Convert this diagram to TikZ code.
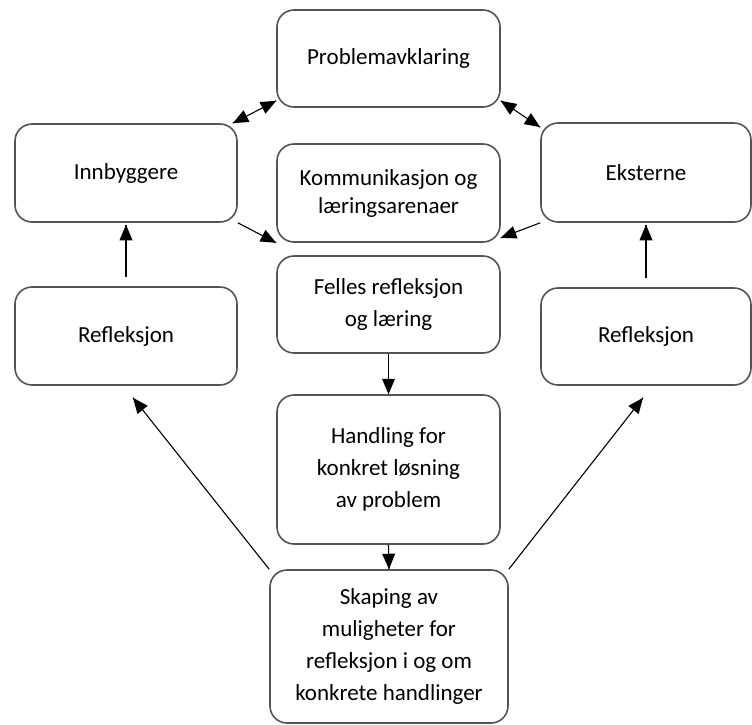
\documentclass[tikz,border=0pt]{standalone}
\usepackage{fontspec}
\setmainfont{Carlito}
\usetikzlibrary{decorations.markings}
\usetikzlibrary{arrows}
\tikzset{->/.style = {decoration={markings,
                                  mark=at position 1 with {\arrow[scale=1.7]{triangle 45}}},
                      postaction={decorate}}}
\tikzset{<->/.style = {decoration={markings,
                                   mark=at position 0 with {\arrowreversed[scale=1.7]{triangle 45}},
                                   mark=at position 1 with {\arrow[scale=1.7]{triangle 45}}},
                       postaction={decorate}}}
\tikzset{box/.style = {draw=mgray, line width=1.6pt, rounded corners=17pt, align=center,
                       inner sep=0, font=\fontsize{23}{32}\selectfont}}
\tikzset{conn/.style = {line width=1.1pt}}
\definecolor{mgray}{rgb}{0.33, 0.33, 0.33}

\begin{document}
\begin{tikzpicture}[x=1pt, y=-1pt]
    \useasboundingbox (0, 0) rectangle (752, 724);

    \node [box, minimum width=223pt, minimum height=97pt] (probl) at (388.5, 58.5) {Problemavklaring};
    \node [box, minimum width=223pt, minimum height=98pt, font=\fontsize{23}{28}\selectfont] (komm) at (388.5, 193) {Kommunikasjon og\\læringsarenaer};
    \node [box, minimum width=223pt, minimum height=97pt] (felles) at (388.5, 304.5) {Felles refleksjon\\og læring};
    \node [box, minimum width=223pt, minimum height=149pt] (handl) at (388.5, 469.5) {Handling for\\konkret løsning\\av problem};
    \node [box, minimum width=238pt, minimum height=153pt] (skap) at (389, 646.5) {Skaping av\\muligheter for\\refleksjon i og om\\konkrete handlinger};

    \node [box, minimum width=222pt, minimum height=98pt] (innb) at (126, 173) {Innbyggere};
    \node [box, minimum width=222pt, minimum height=98pt] (refl1) at (126, 336) {Refleksjon};
    \node [box, minimum width=210pt, minimum height=99pt] (ekst) at (646, 172.5) {Eksterne};
    \node [box, minimum width=210pt, minimum height=97pt] (refl2) at (646, 336.5) {Refleksjon};

    \draw [conn, <->] ([xshift=-5pt]innb.north east) -- ([yshift=7pt]probl.south west);
    \draw [conn, <->] ([yshift=7pt]probl.south east) -- ([yshift=-5pt]ekst.north west);
    \draw [conn, ->] (innb.south east) -- (komm.south west);
    \draw [conn, ->] (ekst.south west) -- ([yshift=5pt]komm.south east);

    \draw [conn, ->] ([yshift=9pt]refl1.north) -- ([yshift=-2pt]innb.south);
    \draw [conn, ->] ([yshift=9pt]refl2.north) -- ([yshift=-2pt]ekst.south);

    \draw [conn, ->] (felles.south) -- (handl.north);
    \draw [conn, ->] (handl.south) -- (skap.north);

    \draw [conn, ->] (skap.north west) -- ([xshift=7pt, yshift=-12pt]refl1.south);
    \draw [conn, ->] (skap.north east) -- ([xshift=-3pt, yshift=-12pt]refl2.south);
  \end{tikzpicture}
\end{document}
